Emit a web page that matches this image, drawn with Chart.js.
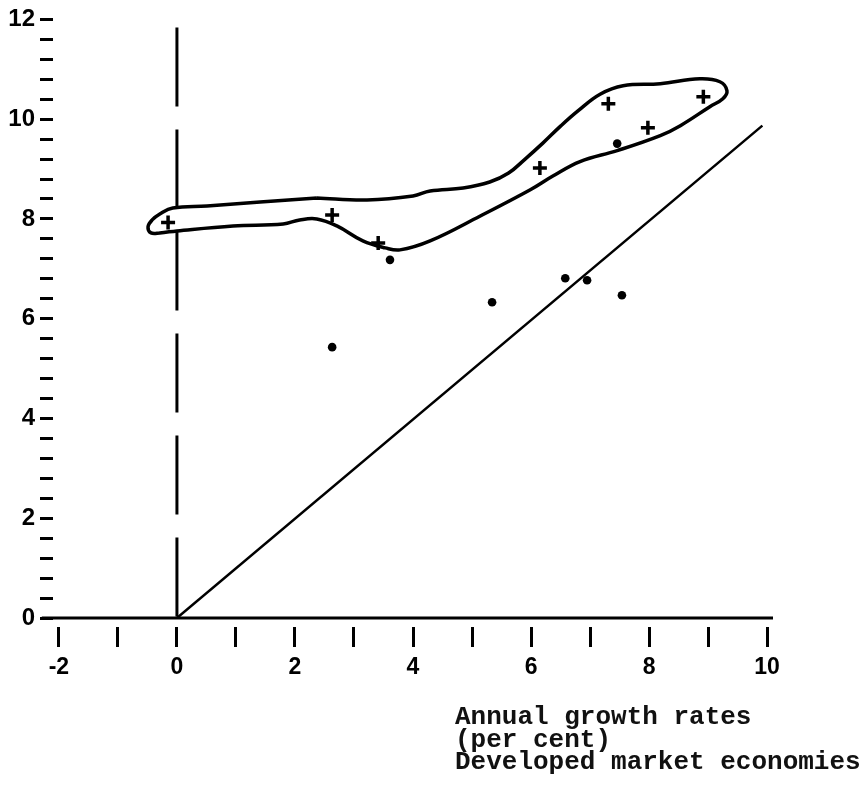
<!DOCTYPE html>
<html>
<head>
<meta charset="utf-8">
<script src="https://cdn.jsdelivr.net/npm/chart.js@4.4.1/dist/chart.umd.min.js"></script>
<style>
  body { margin: 0; background: #fff; }
  #wrap { width: 866px; height: 799px; }
</style>
</head>
<body>
<div id="wrap"><canvas id="growthChart"></canvas></div>
<script>
// axis ticks
const xTicks = [-2, -1, 0, 1, 2, 3, 4, 5, 6, 7, 8, 9, 10];
const yLabels = [0, 2, 4, 6, 8, 10, 12];
const yMinorStep = 0.4;

// countries marked with a cross
const crossX = [-0.15, 2.63, 3.41, 6.15, 7.31, 7.98, 8.92];
const crossY = [7.93, 8.08, 7.52, 9.02, 10.31, 9.83, 10.45];

// countries marked with a dot
const dotX = [2.63, 3.61, 5.34, 6.58, 6.95, 7.46, 7.54];
const dotY = [5.43, 7.18, 6.33, 6.81, 6.77, 9.51, 6.47];

// hand drawn outline round the crosses (starts and ends on the upper edge)
const loopX = [2.37, 3.22, 4.0, 4.29, 4.85, 5.3, 5.62, 5.9, 6.2, 6.5, 6.8, 7.17, 7.56, 8.19, 8.86, 9.2, 9.32, 9.25, 9.03,
               8.53, 8.19, 7.46, 6.83, 6.37, 5.98, 5.14, 4.29, 3.78, 3.53, 3.15, 2.71, 2.37, 2.08, 1.8, 0.95,
               0, -0.29, -0.44, -0.49, -0.42, -0.29, -0.07, 0.51, 1.41, 2.37];
const loopY = [8.42, 8.38, 8.46, 8.56, 8.62, 8.74, 8.92, 9.2, 9.52, 9.86, 10.17, 10.5, 10.67, 10.71, 10.81, 10.75, 10.57, 10.41, 10.25,
               9.87, 9.67, 9.37, 9.15, 8.86, 8.58, 8.06, 7.56, 7.38, 7.42, 7.56, 7.86, 8.0, 7.98, 7.9, 7.86,
               7.76, 7.72, 7.72, 7.84, 7.98, 8.1, 8.22, 8.26, 8.34, 8.42];

// reference lines
const diagX = [0, 9.92];
const diagY = [0, 9.87];
const zeroX = [0, 0];
const zeroY = [11.84, 0];
const baseX = [-2.29, 10.1];
const baseY = [0, 0];

const noteLines = ['Annual growth rates', '(per cent)', 'Developed market economies'];

function toPoints(xs, ys) {
  return xs.map(function(x, i) { return { x: x, y: ys[i] }; });
}

const noteText = {
  id: 'noteText',
  afterDraw(chart) {
    const ctx = chart.ctx;
    ctx.save();
    ctx.font = 'bold 26px "Liberation Mono", monospace';
    ctx.fillStyle = '#111';
    ctx.textAlign = 'left';
    ctx.textBaseline = 'alphabetic';
    noteLines.forEach(function(line, i) {
      ctx.fillText(line, 455, 724 + i * 22.5);
    });
    ctx.restore();
  }
};

const lineStyle = { showLine: true, pointRadius: 0, borderColor: '#000', fill: false };

const config = {
  type: 'scatter',
  data: {
    datasets: [
      Object.assign({ data: toPoints(loopX, loopY), borderWidth: 3.5, tension: 0.4 }, lineStyle),
      Object.assign({ data: toPoints(diagX, diagY), borderWidth: 2.5 }, lineStyle),
      Object.assign({ data: toPoints(zeroX, zeroY), borderWidth: 3, borderDash: [79, 23] }, lineStyle),
      Object.assign({ data: toPoints(baseX, baseY), borderWidth: 3, clip: false }, lineStyle),
      {
        data: toPoints(crossX, crossY),
        pointStyle: 'cross',
        pointRadius: 7,
        pointBorderWidth: 3.5,
        borderColor: '#000'
      },
      {
        data: toPoints(dotX, dotY),
        pointStyle: 'circle',
        pointRadius: 4.3,
        borderWidth: 0,
        backgroundColor: '#000',
        borderColor: '#000'
      }
    ]
  },
  options: {
    responsive: true,
    maintainAspectRatio: false,
    animation: false,
    layout: { padding: { top: 15, right: 93, left: 0, bottom: 0 } },
    plugins: { legend: { display: false }, tooltip: { enabled: false } },
    scales: {
      x: {
        type: 'linear',
        min: -2.1,
        max: 10.1,
        afterBuildTicks: function(scale) {
          scale.ticks = xTicks.map(function(v) { return { value: v }; });
        },
        afterFit: function(scale) { scale.height = 181; },
        border: { display: false },
        grid: {
          drawOnChartArea: false,
          tickLength: 29,
          lineWidth: 3,
          tickWidth: 3,
          tickColor: '#000',
          tickBorderDash: [20, 9],
          tickBorderDashOffset: 20
        },
        ticks: {
          autoSkip: false,
          maxRotation: 0,
          padding: 7,
          color: '#000',
          font: { family: '"Liberation Sans", Arial, sans-serif', size: 23, weight: 'bold' },
          callback: function(v) { return v % 2 === 0 ? v : ''; }
        }
      },
      y: {
        min: 0,
        max: 12,
        afterBuildTicks: function(scale) {
          const ticks = [];
          for (let k = 0; k * yMinorStep <= 12.0001; k++) {
            ticks.push({ value: Math.round(k * yMinorStep * 10) / 10 });
          }
          scale.ticks = ticks;
        },
        afterFit: function(scale) { scale.width = 53; },
        border: { display: false },
        grid: {
          drawOnChartArea: false,
          tickLength: 13,
          lineWidth: 3,
          tickColor: '#000'
        },
        ticks: {
          autoSkip: false,
          padding: 5,
          color: '#000',
          font: { family: '"Liberation Sans", Arial, sans-serif', size: 24, weight: 'bold' },
          callback: function(v) { return yLabels.includes(v) ? v : ''; }
        }
      }
    }
  },
  plugins: [noteText]
};

new Chart(document.getElementById('growthChart'), config);
</script>
</body>
</html>
